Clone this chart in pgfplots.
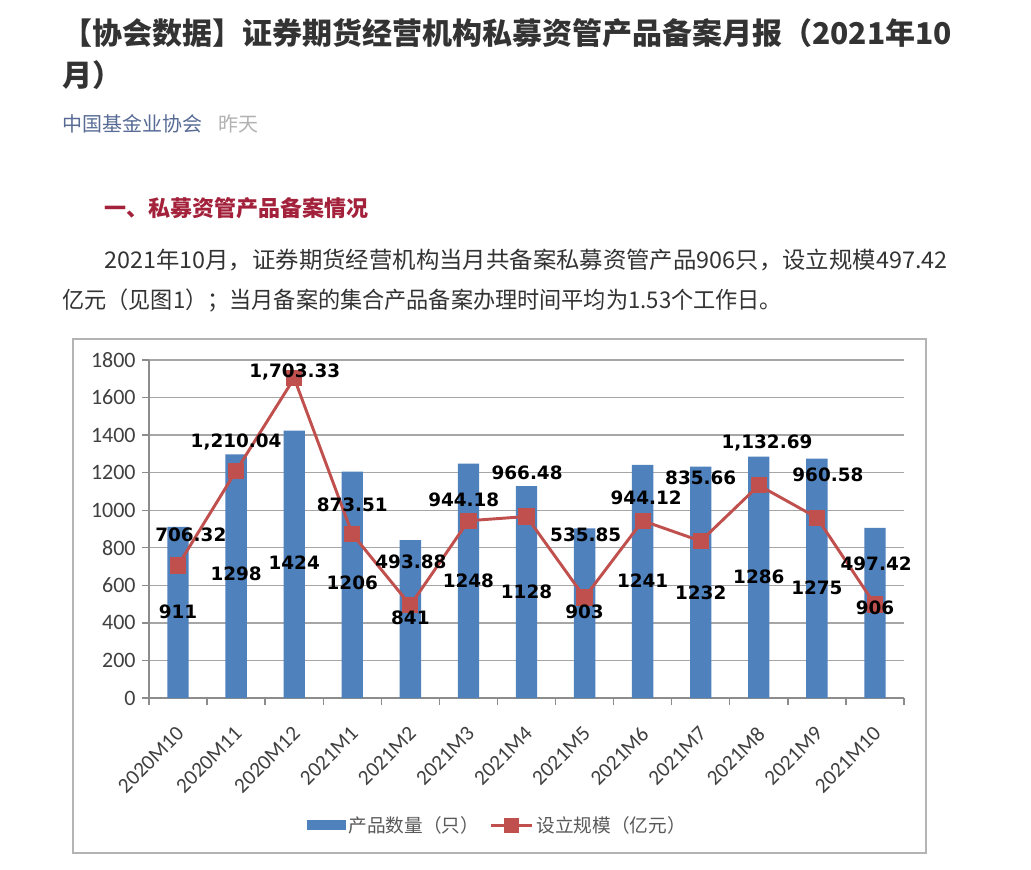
\documentclass[border=0pt]{standalone}
\usepackage{fontspec}
\usepackage{pgfplots}
\usepackage{pgfplotstable}
\usepackage{graphicx}
\pgfplotsset{compat=1.18}
\newfontfamily\cjk{Noto Sans CJK SC}
\newfontfamily\carl{Carlito}
\newfontfamily\dejavu{DejaVu Sans}
\definecolor{barblue}{HTML}{4F81BD}
\definecolor{linered}{HTML}{C0504D}
\definecolor{gridgray}{HTML}{A6A6A6}
\definecolor{axisgray}{HTML}{8C8C8C}
\definecolor{boxgray}{HTML}{B4B4B4}
\definecolor{titlec}{HTML}{333333}
\definecolor{authorc}{HTML}{576B95}
\definecolor{datec}{HTML}{B2B2B2}
\definecolor{headc}{HTML}{A3213A}
\definecolor{tickc}{HTML}{404040}
\definecolor{legc}{HTML}{595959}

\pgfplotstableread{
x count
0 911
1 1298
2 1424
3 1206
4 841
5 1248
6 1128
7 903
8 1241
9 1232
10 1286
11 1275
12 906
}\counts
\pgfplotstableread{
x scale
0 706.32
1 1210.04
2 1703.33
3 873.51
4 493.88
5 944.18
6 966.48
7 535.85
8 944.12
9 835.66
10 1132.69
11 960.58
12 497.42
}\scales
\pgfplotstableread{
x y lab
0 458 911
1 660 1298
2 719 1424
3 612 1206
4 426 841
5 623 1248
6 564 1128
7 458 903
8 623 1241
9 559 1232
10 644 1286
11 586 1275
12 479 906
0.22 868 706.32
1.0 1363 1,210.04
2.01 1736 1,703.33
3.0 1028 873.51
4.01 724 493.88
4.92 1054 944.18
6.01 1198 966.48
7.02 868 535.85
8.06 1065 944.12
9.0 1172 835.66
10.14 1358 1,132.69
11.19 1187 960.58
12.02 714 497.42
}\labels

\begin{document}
\begin{tikzpicture}
\useasboundingbox (0,0) rectangle (773.25pt,-651.75pt);
\begin{scope}[x=0.75pt,y=-0.75pt]
\fill[white] (0,0) rectangle (1031,869);
\node[anchor=west, inner sep=0pt, text=titlec, font=\cjk\bfseries\fontsize{22.5pt}{27pt}\selectfont] at (62,33) {【协会数据】证券期货经营机构私募资管产品备案月报（2021年10};
\node[anchor=west, inner sep=0pt, text=titlec, font=\cjk\bfseries\fontsize{22.5pt}{27pt}\selectfont] at (62,75) {月）};
\node[anchor=west, inner sep=0pt, text=authorc, font=\cjk\fontsize{15pt}{18pt}\selectfont] at (62,124) {中国基金业协会};
\node[anchor=west, inner sep=0pt, text=datec, font=\cjk\fontsize{15pt}{18pt}\selectfont] at (218,124) {昨天};
\node[anchor=west, inner sep=0pt, text=headc, font=\cjk\bfseries\fontsize{16.5pt}{20pt}\selectfont] at (104,208) {一、私募资管产品备案情况};
\node[anchor=west, inner sep=0pt, text=titlec, font=\cjk\fontsize{17.25pt}{21pt}\selectfont] at (104,260) {\scalebox{1.017}[1]{2021年10月，证券期货经营机构当月共备案私募资管产品906只，设立规模497.42}};
\node[anchor=west, inner sep=0pt, text=titlec, font=\cjk\fontsize{17.25pt}{21pt}\selectfont] at (62,300) {\scalebox{0.963}[1]{亿元（见图1）；当月备案的集合产品备案办理时间平均为1.53个工作日。}};
\draw[boxgray, line width=1.2pt] (73,339) rectangle (926,853);
\end{scope}
\begin{axis}[
  at={(111.75pt,-523.5pt)}, anchor=south west,
  scale only axis, width=566.25pt, height=253.5pt,
  xmin=-0.5, xmax=12.5, ymin=0, ymax=1800,
  axis x line*=bottom, axis y line*=left,
  axis line style={draw=axisgray, line width=1pt},
  ytick={0,200,...,1800},
  ymajorgrids, grid style={gridgray, line width=1pt},
  xtick={0,...,12},
  xticklabels={2020M10,2020M11,2020M12,2021M1,2021M2,2021M3,2021M4,2021M5,2021M6,2021M7,2021M8,2021M9,2021M10},
  minor xtick={-0.5,0.5,...,12.5},
  major x tick style={draw=none},
  minor x tick style={draw=axisgray, line width=1pt},
  y tick style={draw=axisgray, line width=1pt},
  tick align=outside, major tick length=5pt, minor tick length=5pt,
  /pgf/number format/assume math mode=true,
  /pgf/number format/1000 sep={},
  ticklabel style={font=\carl\fontsize{16.5pt}{18pt}\selectfont, text=tickc},
  yticklabel style={xshift=-1.5pt},
  xticklabel style={rotate=45, anchor=north east, xshift=-9pt, yshift=-6pt,
    font=\carl\fontsize{16pt}{18pt}\selectfont},
  legend style={at={(0.462,-0.376)}, anchor=center, draw=none, fill=none,
    font=\cjk\fontsize{14pt}{17pt}\selectfont, text=legc, legend columns=2,
    /tikz/every even column/.append style={column sep=6pt}},
  legend cell align=left,
  clip=false,
]
\addplot[ybar, bar width=16pt, fill=barblue, draw=none,
  legend image code/.code={\fill[barblue] (0pt,-3.75pt) rectangle (29pt,3.75pt);}]
  table[x=x,y=count] {\counts};
\addlegendentry{产品数量（只）}
\addplot[linered, line width=2.2pt, mark=square*, mark size=5pt, mark options={solid, fill=linered},
  legend image code/.code={\draw[linered, line width=2.2pt] (0pt,0pt) -- (31pt,0pt);
    \fill[linered] (11pt,-4.5pt) rectangle (20pt,4.5pt);}]
  table[x=x,y=scale] {\scales};
\addlegendentry{设立规模（亿元）}
\addplot[draw=none, mark=none, nodes near coords, point meta=explicit symbolic,
  nodes near coords style={anchor=center, inner sep=0pt, text=black,
    font=\dejavu\bfseries\fontsize{13.8pt}{16pt}\selectfont}, forget plot]
  table[x=x,y=y,meta=lab] {\labels};
\end{axis}
\end{tikzpicture}
\end{document}
